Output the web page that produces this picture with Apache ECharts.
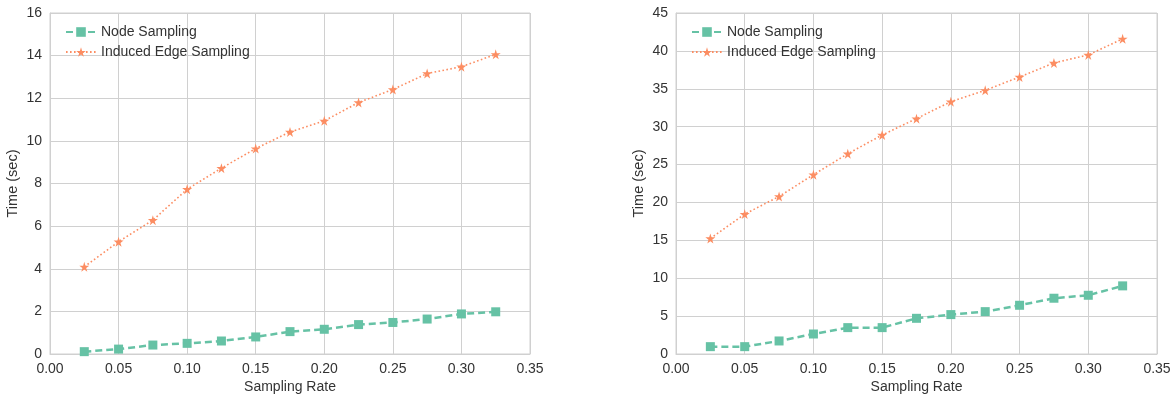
<!DOCTYPE html>
<html>
<head>
<meta charset="utf-8">
<script src="https://cdn.jsdelivr.net/npm/echarts@6/dist/echarts.min.js"></script>
<style>html,body{margin:0;padding:0;background:#fff}#c{width:1173px;height:394px}</style>
</head>
<body>
<div id="c"></div>
<script>
const rates = [0.025, 0.05, 0.075, 0.10, 0.125, 0.15, 0.175, 0.20, 0.225, 0.25, 0.275, 0.30, 0.325];
const leftNode = [0.11, 0.23, 0.42, 0.50, 0.61, 0.80, 1.05, 1.16, 1.38, 1.48, 1.64, 1.88, 1.98];
const leftEdge = [4.09, 5.27, 6.28, 7.73, 8.72, 9.64, 10.42, 10.94, 11.80, 12.41, 13.16, 13.48, 14.06];
const rightNode = [0.97, 0.97, 1.72, 2.64, 3.48, 3.48, 4.71, 5.20, 5.59, 6.43, 7.36, 7.75, 8.99];
const rightEdge = [15.24, 18.46, 20.79, 23.66, 26.43, 28.90, 31.06, 33.30, 34.80, 36.56, 38.41, 39.47, 41.59];
const seriesNames = ['Node Sampling', 'Induced Edge Sampling'];
const xTicks = {min: 0, max: 0.35, interval: 0.05};
const leftY = {min: 0, max: 16, interval: 2};
const rightY = {min: 0, max: 45, interval: 5};

const GREEN = '#66c2a5', ORANGE = '#fc8d62', TEXT = '#333333', GRID = '#d0d0d0';
const FONT = 'Liberation Sans';
const STAR = 'path://M50,0 L61,35 L98,35 L68,57 L79,91 L50,70 L21,91 L32,57 L2,35 L39,35 Z';

const pairs = (ys) => rates.map((x, i) => [x, ys[i]]);

function xAxis(gi) {
  return {
    type: 'value', gridIndex: gi, min: xTicks.min, max: xTicks.max, interval: xTicks.interval,
    name: 'Sampling Rate', nameLocation: 'middle', nameGap: 26, nameMoveOverlap: false,
    nameTextStyle: {color: TEXT, fontSize: 14, fontFamily: FONT},
    axisLabel: {color: TEXT, fontSize: 14, fontFamily: FONT, margin: 8, formatter: v => v.toFixed(2)},
    axisLine: {show: true, lineStyle: {color: GRID}}, axisTick: {show: false},
    splitLine: {show: true, lineStyle: {color: GRID, width: 1}}
  };
}
function yAxis(gi, cfg) {
  return {
    type: 'value', gridIndex: gi, min: cfg.min, max: cfg.max, interval: cfg.interval,
    name: 'Time (sec)', nameLocation: 'middle', nameGap: 30, nameMoveOverlap: false,
    nameTextStyle: {color: TEXT, fontSize: 14.5, fontFamily: FONT},
    axisLabel: {color: TEXT, fontSize: 14, fontFamily: FONT, margin: 8},
    axisLine: {show: true, lineStyle: {color: GRID}}, axisTick: {show: false},
    splitLine: {show: true, lineStyle: {color: GRID, width: 1}}
  };
}
function nodeSeries(gi, data) {
  return {
    name: seriesNames[0], type: 'line', xAxisIndex: gi, yAxisIndex: gi, data: pairs(data),
    symbol: 'rect', symbolSize: 9, itemStyle: {color: GREEN},
    lineStyle: {color: GREEN, width: 2.5, type: [7, 4]}, animation: false, z: 3
  };
}
function edgeSeries(gi, data) {
  return {
    name: seriesNames[1], type: 'line', xAxisIndex: gi, yAxisIndex: gi, data: pairs(data),
    symbol: STAR, symbolSize: 10, itemStyle: {color: ORANGE},
    lineStyle: {color: ORANGE, width: 1.6, type: [1.6, 2.4]}, animation: false, z: 3
  };
}
function legend(left) {
  return {
    data: seriesNames, left: left, top: 20, orient: 'vertical', itemWidth: 30, itemHeight: 12, itemGap: 6,
    textStyle: {color: TEXT, fontSize: 14, fontFamily: FONT}, backgroundColor: 'rgba(255,255,255,0)'
  };
}

const chart = echarts.init(document.getElementById('c'), null, {renderer: 'canvas'});
chart.setOption({
  animation: false,
  grid: [
    {left: 50, width: 480, top: 13, height: 341, show: true, borderColor: GRID, borderWidth: 1, containLabel: false, outerBoundsMode: 'none'},
    {left: 676, width: 481, top: 13, height: 341, show: true, borderColor: GRID, borderWidth: 1, containLabel: false, outerBoundsMode: 'none'}
  ],
  legend: [legend(60), legend(686)],
  xAxis: [xAxis(0), xAxis(1)],
  yAxis: [yAxis(0, leftY), yAxis(1, rightY)],
  series: [nodeSeries(0, leftNode), edgeSeries(0, leftEdge), nodeSeries(1, rightNode), edgeSeries(1, rightEdge)]
});
</script>
</body>
</html>
